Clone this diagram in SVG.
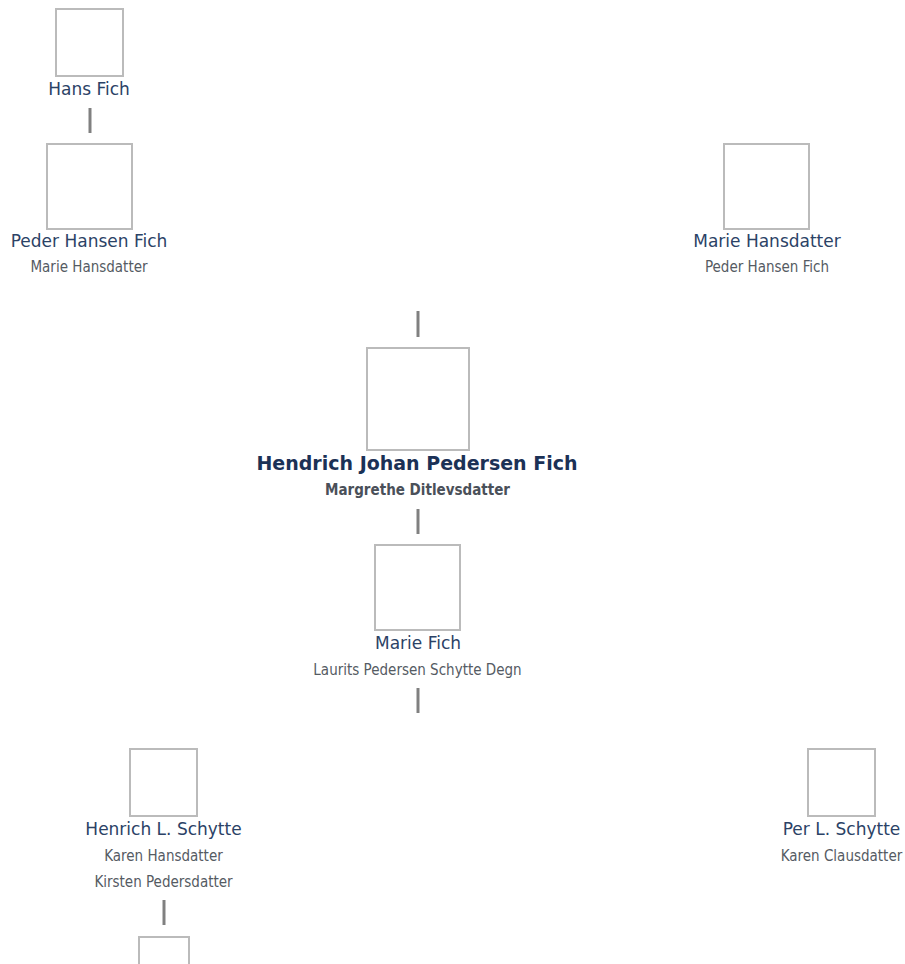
<svg xmlns="http://www.w3.org/2000/svg" width="905" height="964" viewBox="0 0 905 964">
<style>
.box{fill:#fff;stroke:#bbbbbb;stroke-width:2}
.name{font-family:"DejaVu Sans",Verdana,sans-serif;font-size:17px;fill:#2b4266;text-anchor:middle}
.main{font-family:"DejaVu Sans",Verdana,sans-serif;font-size:19px;font-weight:bold;fill:#1b3156;text-anchor:middle}
.sub{font-family:"DejaVu Sans Condensed","DejaVu Sans",sans-serif;font-stretch:condensed;font-size:15px;fill:#555b63;text-anchor:middle}
.subb{font-family:"DejaVu Sans Condensed","DejaVu Sans",sans-serif;font-stretch:condensed;font-size:15px;font-weight:bold;fill:#4a5059;text-anchor:middle}
.con line{stroke:#808080;stroke-width:3}
</style>
<rect width="905" height="964" fill="#fff"/>
<g id="connectors" class="con">
<line x1="90" y1="108" x2="90" y2="133"/>
<line x1="418" y1="311" x2="418" y2="337"/>
<line x1="418" y1="509" x2="418" y2="534"/>
<line x1="418" y1="688" x2="418" y2="713"/>
<line x1="164" y1="900" x2="164" y2="925"/>
</g>
<g id="hans-fich">
<rect class="box" x="56" y="9" width="67" height="67"/>
<text class="name" x="89" y="95">Hans Fich</text>
</g>
<g id="peder-hansen-fich">
<rect class="box" x="47" y="144" width="85" height="85"/>
<text class="name" x="89" y="247">Peder Hansen Fich</text>
<text class="sub" x="89" y="272">Marie Hansdatter</text>
</g>
<g id="marie-hansdatter">
<rect class="box" x="724" y="144" width="85" height="85"/>
<text class="name" x="767" y="247">Marie Hansdatter</text>
<text class="sub" x="767" y="272">Peder Hansen Fich</text>
</g>
<g id="hendrich-johan-pedersen-fich">
<rect class="box" x="367" y="348" width="102" height="102"/>
<text class="main" x="417" y="470">Hendrich Johan Pedersen Fich</text>
<text class="subb" x="417.5" y="495">Margrethe Ditlevsdatter</text>
</g>
<g id="marie-fich">
<rect class="box" x="375" y="545" width="85" height="85"/>
<text class="name" x="418" y="649">Marie Fich</text>
<text class="sub" x="417.5" y="675">Laurits Pedersen Schytte Degn</text>
</g>
<g id="henrich-l-schytte">
<rect class="box" x="130" y="749" width="67" height="67"/>
<text class="name" x="163.5" y="835">Henrich L. Schytte</text>
<text class="sub" x="163.5" y="861">Karen Hansdatter</text>
<text class="sub" x="163.5" y="887">Kirsten Pedersdatter</text>
</g>
<g id="per-l-schytte">
<rect class="box" x="808" y="749" width="67" height="67"/>
<text class="name" x="841.5" y="835">Per L. Schytte</text>
<text class="sub" x="841.5" y="861">Karen Clausdatter</text>
</g>
<g id="child">
<rect class="box" x="139" y="937" width="50" height="50"/>
</g>
</svg>
